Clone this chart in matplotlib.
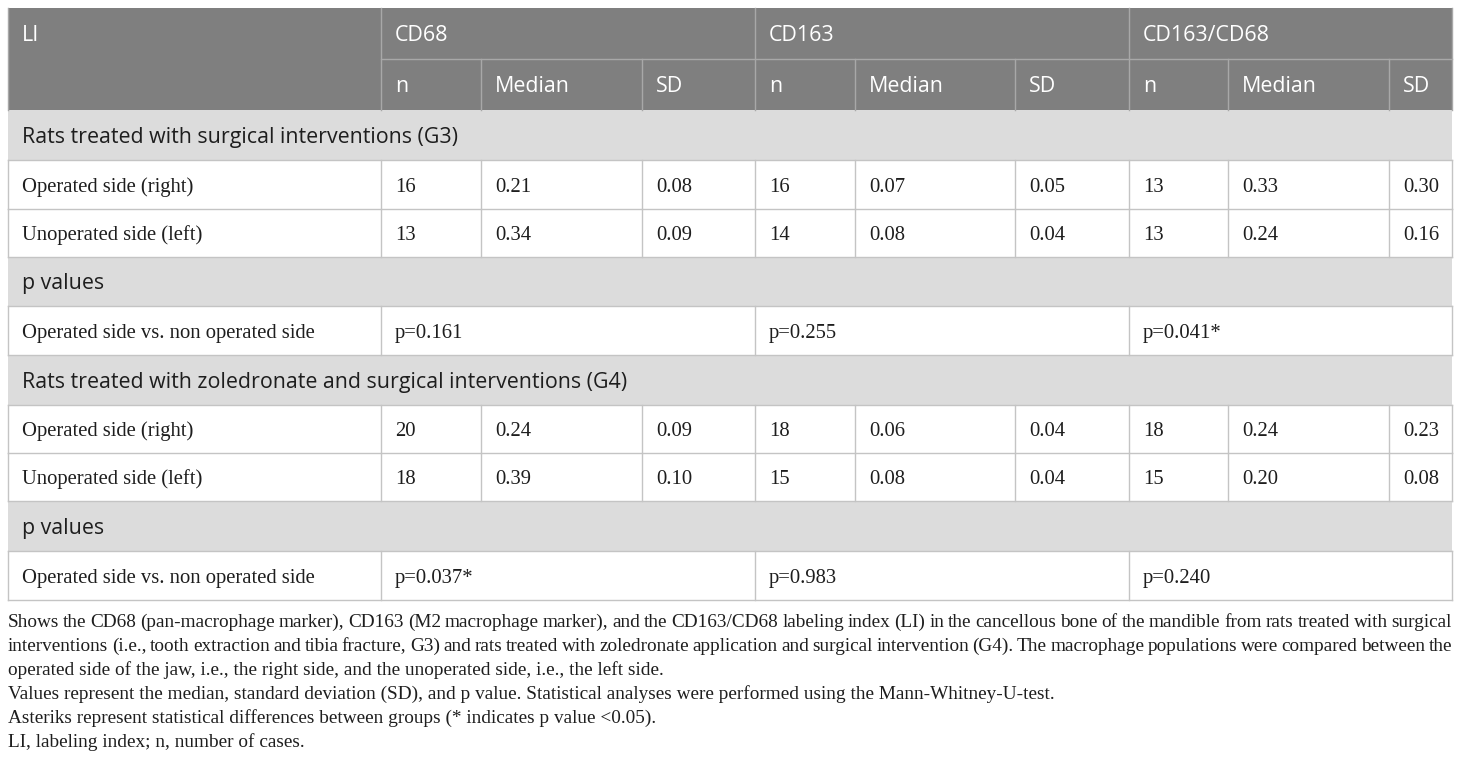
import matplotlib
matplotlib.use("Agg")
import matplotlib.pyplot as plt
from matplotlib.patches import Rectangle

# table content
groups = ["CD68", "CD163", "CD163/CD68"]
subcols = ["n", "Median", "SD"]
row_labels = ["Operated side (right)", "Unoperated side (left)"]
g3_title = "Rats treated with surgical interventions (G3)"
g3_right = ["16", "0.21", "0.08", "16", "0.07", "0.05", "13", "0.33", "0.30"]
g3_left = ["13", "0.34", "0.09", "14", "0.08", "0.04", "13", "0.24", "0.16"]
g3_p = ["p=0.161", "p=0.255", "p=0.041*"]
g4_title = "Rats treated with zoledronate and surgical interventions (G4)"
g4_right = ["20", "0.24", "0.09", "18", "0.06", "0.04", "18", "0.24", "0.23"]
g4_left = ["18", "0.39", "0.10", "15", "0.08", "0.04", "15", "0.20", "0.08"]
g4_p = ["p=0.037*", "p=0.983", "p=0.240"]
p_title = "p values"
p_label = "Operated side vs. non operated side"

notes = [
    "Shows the CD68 (pan-macrophage marker), CD163 (M2 macrophage marker), and the CD163/CD68 labeling index (LI) in the cancellous bone of the mandible from rats treated with surgical",
    "interventions (i.e., tooth extraction and tibia fracture, G3) and rats treated with zoledronate application and surgical intervention (G4). The macrophage populations were compared between the",
    "operated side of the jaw, i.e., the right side, and the unoperated side, i.e., the left side.",
    "Values represent the median, standard deviation (SD), and p value. Statistical analyses were performed using the Mann-Whitney-U-test.",
    "Asteriks represent statistical differences between groups (* indicates p value <0.05).",
    "LI, labeling index; n, number of cases.",
]
justify = [True, True, False, False, False, False]

W, H = 1460, 761
fig = plt.figure(figsize=(W / 100, H / 100), dpi=100)
ax = fig.add_axes([0, 0, 1, 1])
ax.set_xlim(0, W)
ax.set_ylim(H, 0)
ax.axis("off")

xs = [8, 381, 481, 642, 755, 855, 1015, 1129, 1228, 1389, 1452]
ys = [8, 59, 110, 160, 209, 257, 306, 355, 405, 453, 501, 551, 600]
pad = 14
dark = "#7f7f7f"
light = "#dcdcdc"
hline = "#a8a8a8"
bline = "#c4c4c4"
ink = "#1e1e1e"
sans = "Open Sans"
serif = "Liberation Serif"
hsize = 15.4
bsize = 14.9


def rect(x0, x1, y0, y1, fc):
    ax.add_patch(Rectangle((x0, y0), x1 - x0, y1 - y0, facecolor=fc, edgecolor="none"))


def txt(x, y0, y1, s, fam, size, color):
    # baseline placed a bit below the row centre so every cell lines up
    ax.text(x, (y0 + y1) / 2 + 0.36 * size * 100 / 72, s, family=fam,
            fontsize=size, color=color, ha="left", va="baseline")


# header
rect(xs[0], xs[-1], ys[0], ys[2], dark)
txt(xs[0] + pad, ys[0], ys[1], "LI", sans, hsize, "white")
for g, name in enumerate(groups):
    txt(xs[1 + 3 * g] + pad, ys[0], ys[1], name, sans, hsize, "white")
    for k, sub in enumerate(subcols):
        txt(xs[1 + 3 * g + k] + pad, ys[1], ys[2], sub, sans, hsize, "white")
ax.plot([xs[1], xs[-1]], [ys[1], ys[1]], color=hline, lw=1)
for i in range(1, 11):
    top = ys[0] if i in (1, 4, 7, 10) else ys[1]
    ax.plot([xs[i], xs[i]], [top, ys[2]], color=hline, lw=1)
ax.plot([xs[0], xs[0]], [ys[0], ys[2]], color=hline, lw=1)


def section(r, title):
    rect(xs[0], xs[-1], ys[r], ys[r + 1], light)
    txt(xs[0] + pad, ys[r], ys[r + 1], title, sans, hsize, ink)


def data_row(r, label, vals):
    txt(xs[0] + pad, ys[r], ys[r + 1], label, serif, bsize, ink)
    for i, v in enumerate(vals):
        txt(xs[1 + i] + pad, ys[r], ys[r + 1], v, serif, bsize, ink)
    for i in range(0, 11):
        ax.plot([xs[i], xs[i]], [ys[r], ys[r + 1]], color=bline, lw=1)


def p_row(r, vals):
    txt(xs[0] + pad, ys[r], ys[r + 1], p_label, serif, bsize, ink)
    for g, v in enumerate(vals):
        txt(xs[1 + 3 * g] + pad, ys[r], ys[r + 1], v, serif, bsize, ink)
    for i in (0, 1, 4, 7, 10):
        ax.plot([xs[i], xs[i]], [ys[r], ys[r + 1]], color=bline, lw=1)


section(2, g3_title)
data_row(3, row_labels[0], g3_right)
data_row(4, row_labels[1], g3_left)
section(5, p_title)
p_row(6, g3_p)
section(7, g4_title)
data_row(8, row_labels[0], g4_right)
data_row(9, row_labels[1], g4_left)
section(10, p_title)
p_row(11, g4_p)
for r in range(3, 13):
    ax.plot([xs[0], xs[-1]], [ys[r], ys[r]], color=bline, lw=1)

# footnotes, first two lines justified to table width
nsize = 13.9
fig.canvas.draw()
renderer = fig.canvas.get_renderer()


def width_of(s):
    t = ax.text(0, 0, s, family=serif, fontsize=nsize)
    bb = t.get_window_extent(renderer)
    t.remove()
    return bb.width


y = 627
for line, just in zip(notes, justify):
    if just:
        words = line.split(" ")
        ws = [width_of(w) for w in words]
        gap = (xs[-1] - xs[0] - sum(ws)) / (len(words) - 1)
        x = xs[0]
        for w, wd in zip(words, ws):
            ax.text(x, y, w, family=serif, fontsize=nsize, color=ink,
                    ha="left", va="baseline")
            x += wd + gap
    else:
        ax.text(xs[0], y, line, family=serif, fontsize=nsize, color=ink,
                ha="left", va="baseline")
    y += 24

fig.savefig("out.png", dpi=100)
